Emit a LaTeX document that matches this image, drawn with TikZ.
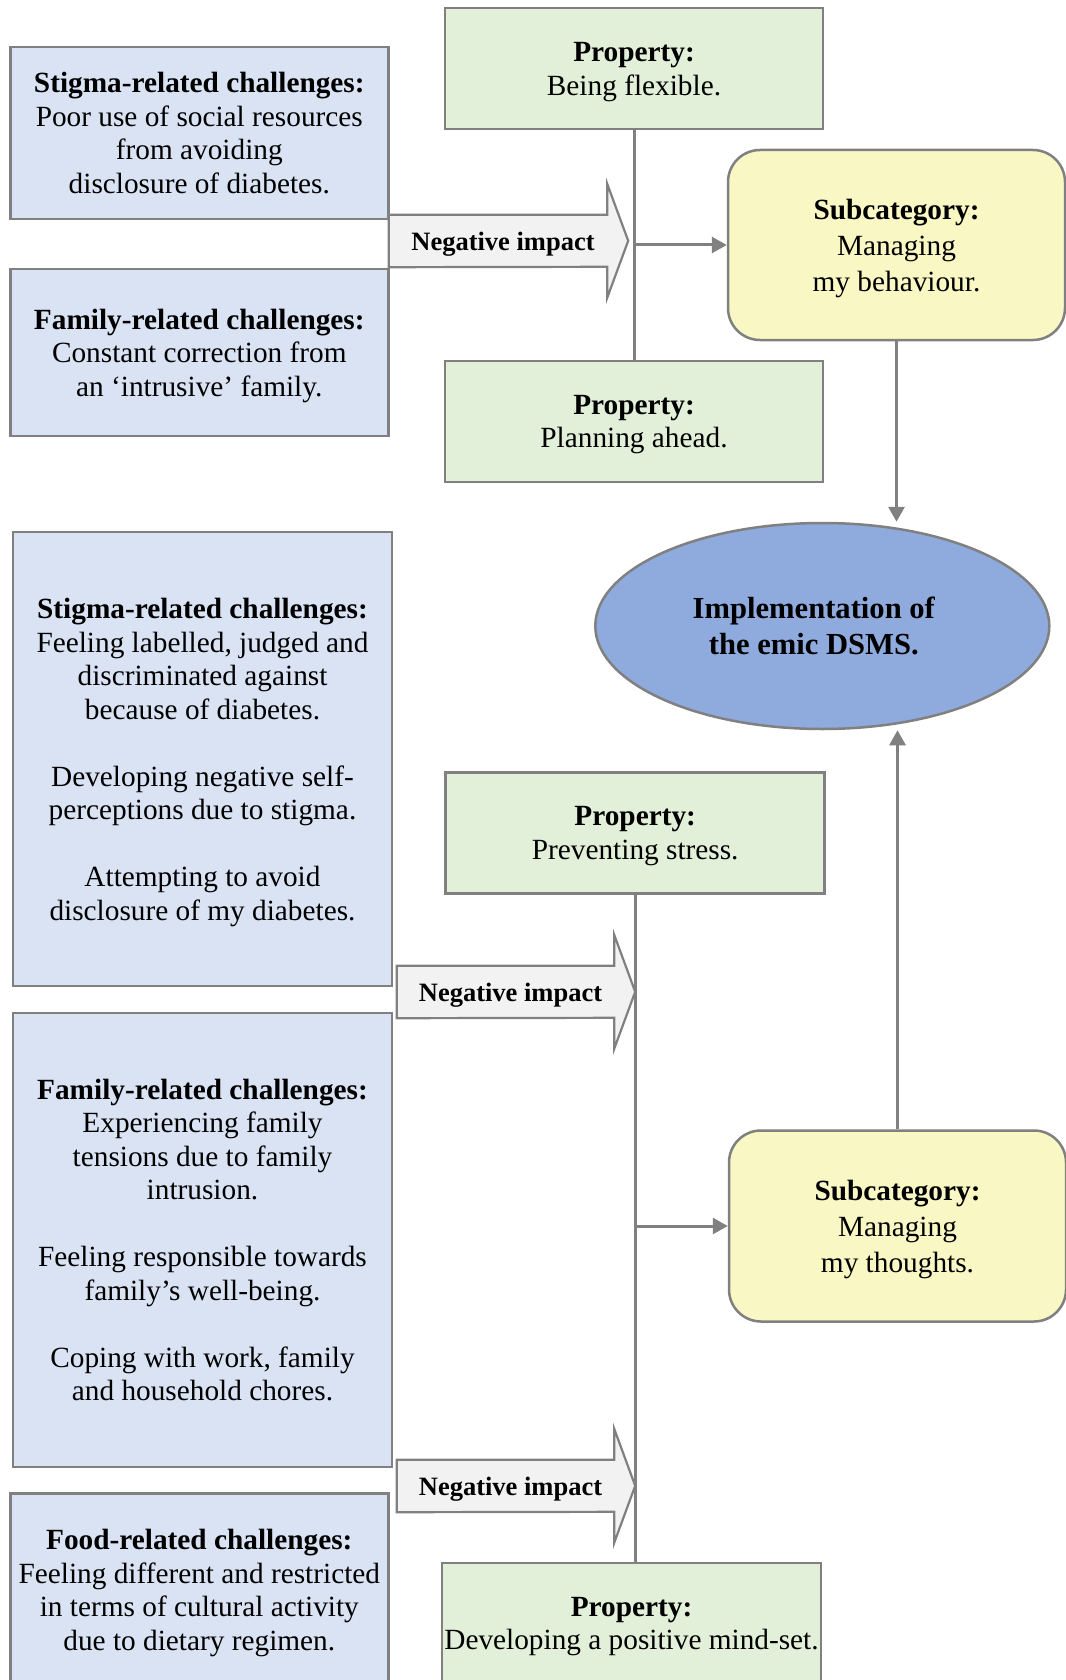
\documentclass[tikz,border=0pt]{standalone}
\usepackage{fontspec}
\setmainfont{Liberation Serif}
\usetikzlibrary{arrows.meta,shapes.geometric,backgrounds}

\definecolor{edgegray}{HTML}{808080}
\definecolor{bluefill}{HTML}{DAE3F3}
\definecolor{greenfill}{HTML}{E2F0D9}
\definecolor{yellowfill}{HTML}{F9F7C3}
\definecolor{ovalfill}{HTML}{8FAADC}
\definecolor{impactfill}{HTML}{F2F2F2}

\tikzset{
  bodytext/.style={font=\fontsize{29.3pt}{33.5pt}\selectfont, text depth=-2pt},
  challenge/.style={bodytext, draw=edgegray, line width=2.5pt, fill=bluefill,
    align=center, inner sep=0pt, minimum width=378pt},
  property/.style={bodytext, draw=edgegray, line width=2.5pt, fill=greenfill,
    align=center, inner sep=0pt, minimum width=378pt, minimum height=121pt},
  subcat/.style={font=\fontsize{29.3pt}{36pt}\selectfont, text depth=-2pt,
    draw=edgegray, line width=2.5pt, fill=yellowfill, align=center,
    rounded corners=32pt, minimum width=337pt, minimum height=190pt, inner sep=0pt},
  core/.style={ellipse, font=\fontsize{30.6pt}{36pt}\selectfont\bfseries,
    text depth=-2pt, draw=edgegray, line width=2.5pt, fill=ovalfill, align=center,
    minimum width=454pt, minimum height=206pt, inner sep=0pt},
  impact/.style={font=\fontsize{26.5pt}{30pt}\selectfont\bfseries, text depth=-2.5pt,
    minimum width=218pt, minimum height=52pt, inner sep=0pt},
  impactshape/.style={draw=edgegray, line width=2.2pt, fill=impactfill, line join=miter},
  link/.style={draw=edgegray, line width=3pt},
  flow/.style={link, -{Triangle[length=15pt,width=16pt]}},
}

\begin{document}
\begin{tikzpicture}[x=1pt,y=-1pt]
\useasboundingbox (0,0) rectangle (1065,1680);

% --- upper part: managing my behaviour ---
\node[challenge, minimum height=172pt] (b1) at (199.3,132.9)
  {\textbf{Stigma-related challenges:}\\Poor use of social resources\\from avoiding\\disclosure of diabetes.};
\node[challenge, minimum height=167pt] (b2) at (199.3,352.4)
  {\textbf{Family-related challenges:}\\Constant correction from\\an ‘intrusive’ family.};
\node[property] (g1) at (634,68.7) {\textbf{Property:}\\Being flexible.};
\node[property] (g2) at (634,421.5) {\textbf{Property:}\\Planning ahead.};
\node[subcat] (y1) at (896.5,245) {\textbf{Subcategory:}\\Managing\\my behaviour.};
\node[impact] (na1) at (498,241) {\hspace*{10pt}Negative impact};

% --- core category ---
\node[core] (ell) at (822.3,626) {Implementation of\hspace*{17pt}\\the emic DSMS.\hspace*{17pt}};

% --- lower part: managing my thoughts ---
\node[challenge, minimum height=454pt, minimum width=379pt] (b3) at (202.5,759.2)
  {\textbf{Stigma-related challenges:}\\Feeling labelled, judged and\\discriminated against\\because of diabetes.\\[33.5pt]
   Developing negative self-\\perceptions due to stigma.\\[33.5pt]
   Attempting to avoid\\disclosure of my diabetes.};
\node[challenge, minimum height=454pt, minimum width=379pt] (b4) at (202.5,1240)
  {\textbf{Family-related challenges:}\\Experiencing family\\tensions due to family\\intrusion.\\[33.5pt]
   Feeling responsible towards\\family’s well-being.\\[33.5pt]
   Coping with work, family\\and household chores.};
\node[challenge, minimum height=193pt] (b5) at (199.3,1590)
  {\textbf{Food-related challenges:}\\Feeling different and restricted\\in terms of cultural activity\\due to dietary regimen.};
\node[property, minimum width=379pt] (g3) at (635.2,832.9) {\textbf{Property:}\\Preventing stress.};
\node[property, minimum width=379pt] (g4) at (631.5,1623.5) {\textbf{Property:}\\Developing a positive mind-set.};
\node[subcat, minimum height=191pt] (y2) at (897.5,1226) {\textbf{Subcategory:}\\Managing\\my thoughts.};
\node[impact, minimum width=217pt] (na2) at (505.5,992) {\hspace*{10pt}Negative impact};
\node[impact, minimum width=217pt] (na3) at (505.5,1486) {\hspace*{10pt}Negative impact};

% block arrows behind their labels
\begin{scope}[on background layer]
  \foreach \n in {na1,na2,na3}
    \draw[impactshape] (\n.north west) -- (\n.north east) -- ++(0,-31)
      -- ++(21,57) -- ++(-21,57) -- ++(0,-31) -- (\n.south west) -- cycle;
\end{scope}

% connectors
\draw[link] (g1.south) -- (g2.north);
\draw[flow] (g1.south |- y1.west) -- (y1.west);
\draw[flow] (y1.south) -- (y1.south |- ell.north);

\draw[link] (g3.south) -- (g3.south |- g4.north);
\draw[flow] (g3.south |- y2.west) -- (y2.west);
\draw[flow] (y2.north) -- (y2.north |- ell.south);
\end{tikzpicture}
\end{document}
